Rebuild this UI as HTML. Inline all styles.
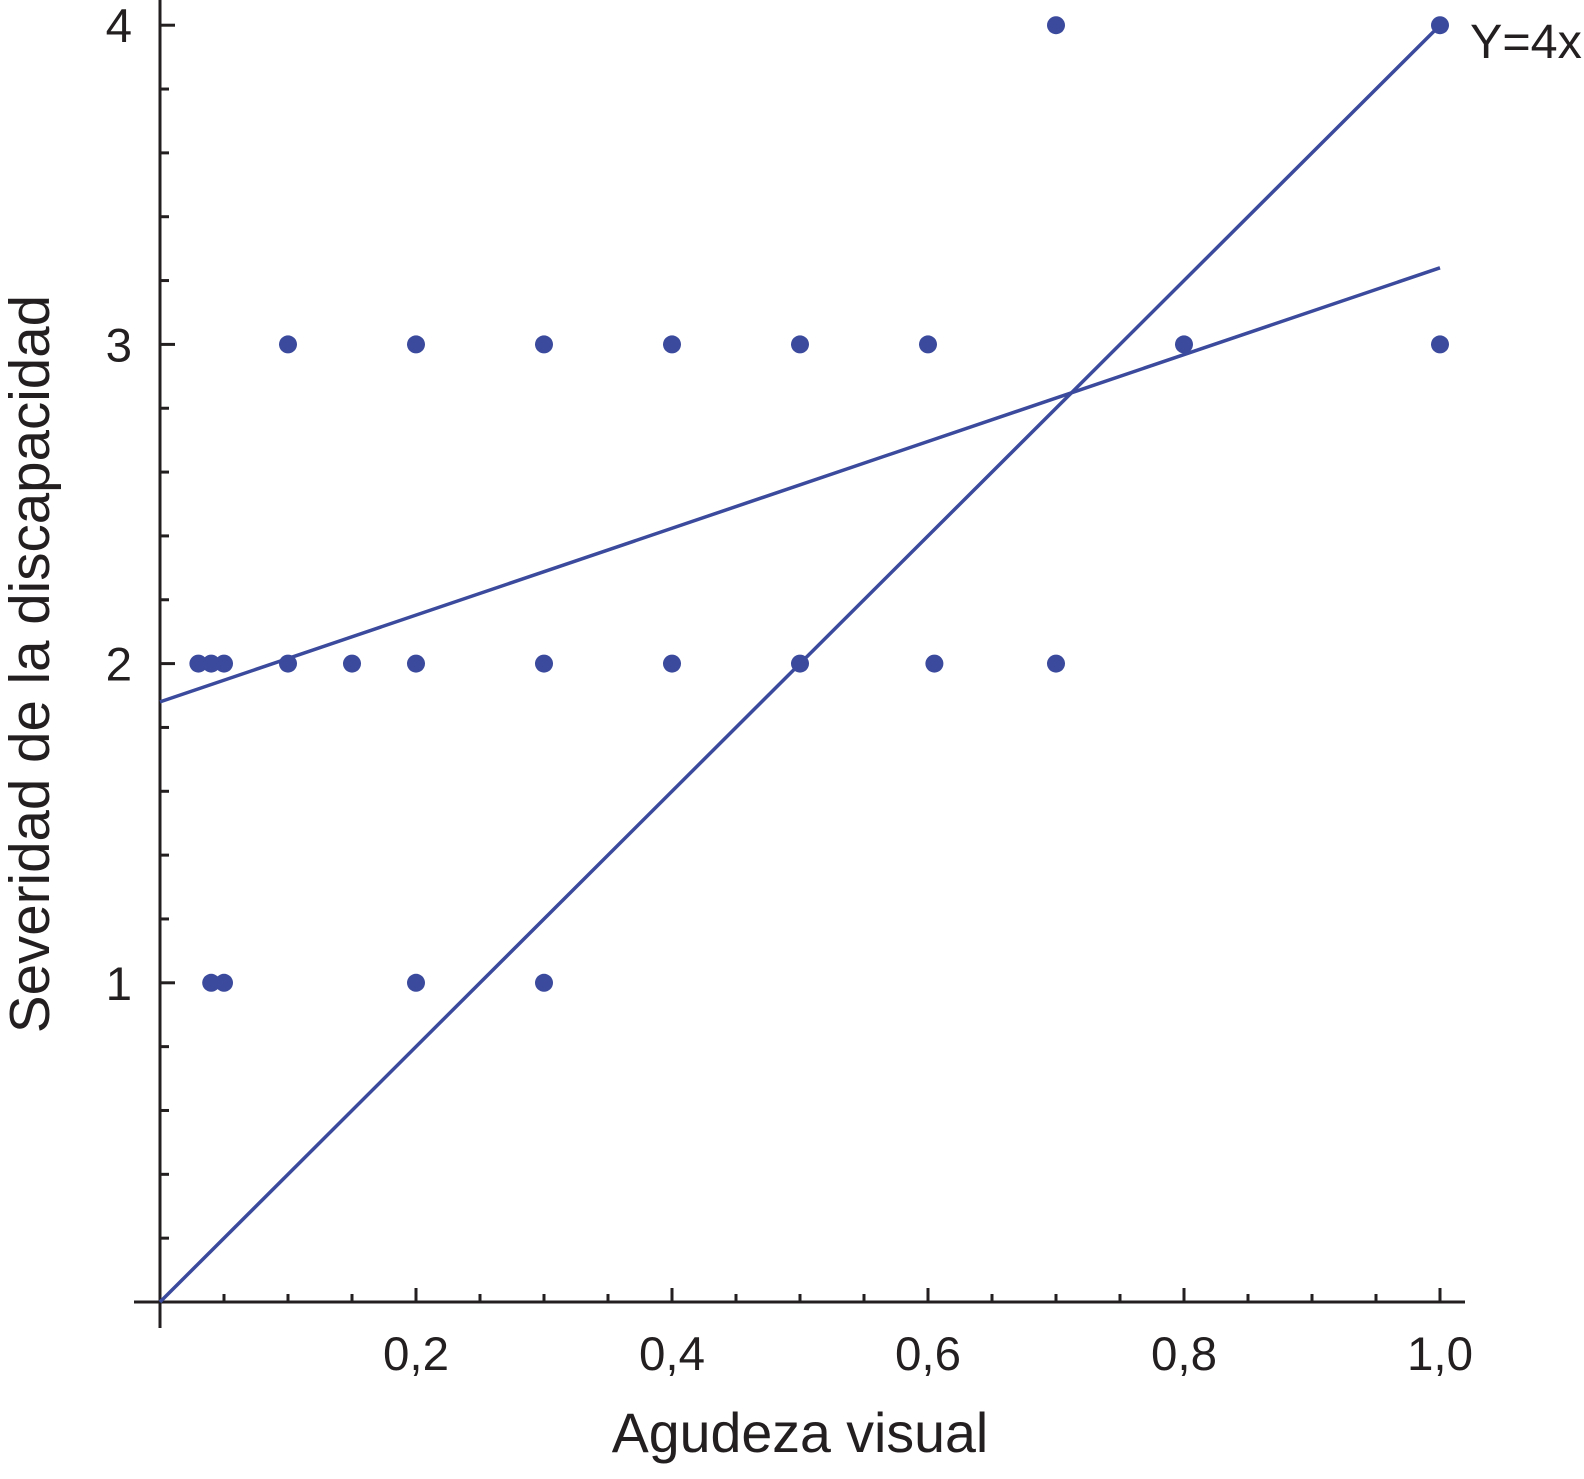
<!DOCTYPE html>
<html><head><meta charset="utf-8"><style>body{margin:0;background:#fff}svg{display:block}text{font-family:"Liberation Sans",sans-serif;fill:#231f20}</style></head>
<body>
<svg id="chart" width="1584" height="1479" viewBox="0 0 1584 1479"></svg>
<script>
const pointsX=[0.03,0.04,0.05,0.1,0.15,0.2,0.3,0.4,0.5,0.605,0.7, 0.04,0.05,0.2,0.3, 0.1,0.2,0.3,0.4,0.5,0.6,0.8,1.0, 0.7,1.0];
const pointsY=[2,2,2,2,2,2,2,2,2,2,2, 1,1,1,1, 3,3,3,3,3,3,3,3, 4,4];
const xTickLabels=["0,2","0,4","0,6","0,8","1,0"];
const xTickValues=[0.2,0.4,0.6,0.8,1.0];
const yTickLabels=["1","2","3","4"];
const yTickValues=[1,2,3,4];
const regression=[1.88,3.24];
const identitySlope=4;
const svg=document.getElementById('chart');
const NS='http://www.w3.org/2000/svg';
const X=v=>160+v*1280, Y=v=>1302-v*319.2;
function mk(t,a,p){const e=document.createElementNS(NS,t);for(const k in a)e.setAttribute(k,a[k]);(p||svg).appendChild(e);return e;}
let e;
e=mk('line',{x1:134,y1:Y(0),x2:1465,y2:Y(0),stroke:'#231f20','stroke-width':3});


e=mk('line',{x1:160,y1:0,x2:160,y2:1328,stroke:'#231f20','stroke-width':3});


for(let i=1;i<=20;i++){const v=i*0.05;const maj=i%4===0;
 e=mk('line',{x1:X(v),y1:Y(0),x2:X(v),y2:Y(0)-(maj?14:8),stroke:'#231f20','stroke-width':3});
 
 }
for(let i=1;i<=20;i++){const v=i*0.2;const maj=i%5===0;
 e=mk('line',{x1:160,y1:Y(v),x2:160+(maj?15:9),y2:Y(v),stroke:'#231f20','stroke-width':3});
 
 }
xTickValues.forEach((v,i)=>{e=mk('text',{x:X(v),y:1370,'text-anchor':'middle','font-size':47.5});e.textContent=xTickLabels[i];
 
 });
yTickValues.forEach((v,i)=>{e=mk('text',{x:132,y:Y(v)+17,'text-anchor':'end','font-size':47.5});e.textContent=yTickLabels[i];
 
 });
e=mk('text',{x:800,y:1452,'text-anchor':'middle','font-size':55.5});e.textContent='Agudeza visual';


e=mk('text',{x:0,y:0,'text-anchor':'middle','font-size':56.5,transform:'translate(49,664) rotate(-90)'});e.textContent='Severidad de la discapacidad';


e=mk('line',{x1:X(0),y1:Y(regression[0]),x2:X(1),y2:Y(regression[1]),stroke:'#3b4a9c','stroke-width':3.5});


e=mk('line',{x1:X(0),y1:Y(0),x2:X(1),y2:Y(identitySlope),stroke:'#3b4a9c','stroke-width':3.5});


e=mk('text',{x:1470,y:58,'font-size':48.5});e.textContent='Y=4x';


pointsX.forEach((v,i)=>{e=mk('circle',{cx:X(v),cy:Y(pointsY[i]),r:9,fill:'#3b4a9c'});
 
 });
</script>
</body></html>
